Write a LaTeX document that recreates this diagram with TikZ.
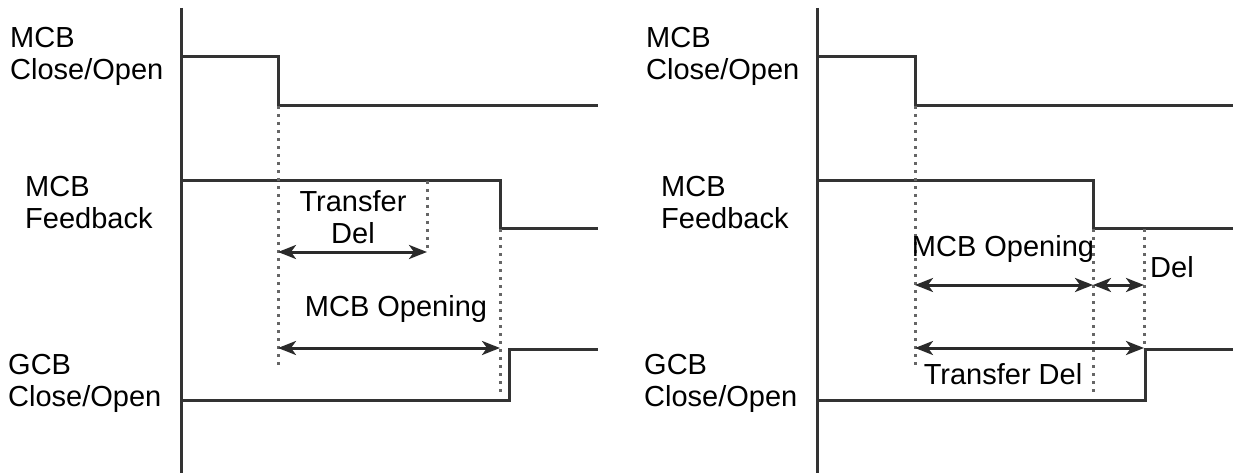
\documentclass[tikz,border=0pt]{standalone}
\usepackage{fontspec}
\setmainfont{Liberation Sans}
\usetikzlibrary{arrows.meta}
\definecolor{ln}{HTML}{333333}
\definecolor{ar}{HTML}{2A2A2A}
\definecolor{dt}{HTML}{666666}
\tikzset{
  sig/.style={draw=ln,line width=3pt},
  axisln/.style={draw=ln,line width=3pt},
  dots/.style={draw=dt,line width=3pt,dash pattern=on 2.6pt off 5.4pt},
  span/.style={{Stealth[length=18pt,width=14pt,inset=5pt]}-{Stealth[length=18pt,width=14pt,inset=5pt]},draw=ar,line width=3pt},
  lbl/.style={inner sep=0pt,align=left,anchor=north west,font=\fontsize{29}{32}\selectfont},
  tlbl/.style={lbl,anchor=north,align=center},
}

\begin{document}
\begin{tikzpicture}[x=1pt,y=-1pt]
\useasboundingbox (0,0) rectangle (1234,473);
% left: transfer delay shorter than MCB opening
\draw[axisln] (181,8) -- (181,473);
\draw[sig] (181,57) -| (278,106) -- (598,106);
\draw[sig] (181,181) -| (500,229) -- (598,229);
\draw[sig] (181,400) -| (509,349) -- (598,349);
\node[lbl] (mcbA) at (10,27) {MCB\\Close/Open};
\node[lbl] (fbA) at (25,176) {MCB\\Feedback};
\node[lbl] (gcbA) at (8,354) {GCB\\Close/Open};
\coordinate (offA) at (278,106);
\coordinate (offAe) at (278,368);
\coordinate (tdA) at (427,181);
\coordinate (fbdA) at (500,229);
\coordinate (fbdAe) at (500,393);
\draw[dots] (offA) -- (offAe);
\draw[dots] (tdA) -- (tdA |- 0,252);
\draw[dots] (fbdA) -- (fbdAe);
\coordinate (tdAl) at (278,252);
\coordinate (tdAr) at (427,252);
\coordinate (opAl) at (278,348);
\coordinate (opAr) at (500,348);
\draw[span] (tdAl) -- (tdAr);
\draw[span] (opAl) -- (opAr);
\node[tlbl] (tdtA) at (353,190) {Transfer\\Del};
\node[tlbl] (optA) at (396,295) {MCB Opening};
% right: MCB opening plus delay
\draw[axisln] (817,8) -- (817,473);
\draw[sig] (817,57) -| (915,106) -- (1233,106);
\draw[sig] (817,181) -| (1093,229) -- (1233,229);
\draw[sig] (817,400) -| (1145,349) -- (1233,349);
\node[lbl] (mcbB) at (646,27) {MCB\\Close/Open};
\node[lbl] (fbB) at (661,176) {MCB\\Feedback};
\node[lbl] (gcbB) at (644,354) {GCB\\Close/Open};
\coordinate (offB) at (915,106);
\coordinate (offBe) at (915,367);
\coordinate (fbdB) at (1093,229);
\coordinate (fbdBe) at (1093,393);
\coordinate (gcB) at (1144,229);
\coordinate (gcBe) at (1144,349);
\draw[dots] (offB) -- (offBe);
\draw[dots] (fbdB) -- (fbdBe);
\draw[dots] (gcB) -- (gcBe);
\coordinate (opBl) at (915,285);
\coordinate (opBr) at (1093,285);
\coordinate (dlBr) at (1144,285);
\coordinate (tdBl) at (915,348);
\coordinate (tdBr) at (1144,348);
\draw[span] (opBl) -- (opBr);
\draw[span] (opBr) -- (dlBr);
\draw[span] (tdBl) -- (tdBr);
\node[tlbl] (optB) at (1003,235) {MCB Opening};
\node[lbl] (dlB) at (1150,256) {Del};
\node[tlbl] (tdtB) at (1003,363) {Transfer Del};
\end{tikzpicture}
\end{document}
